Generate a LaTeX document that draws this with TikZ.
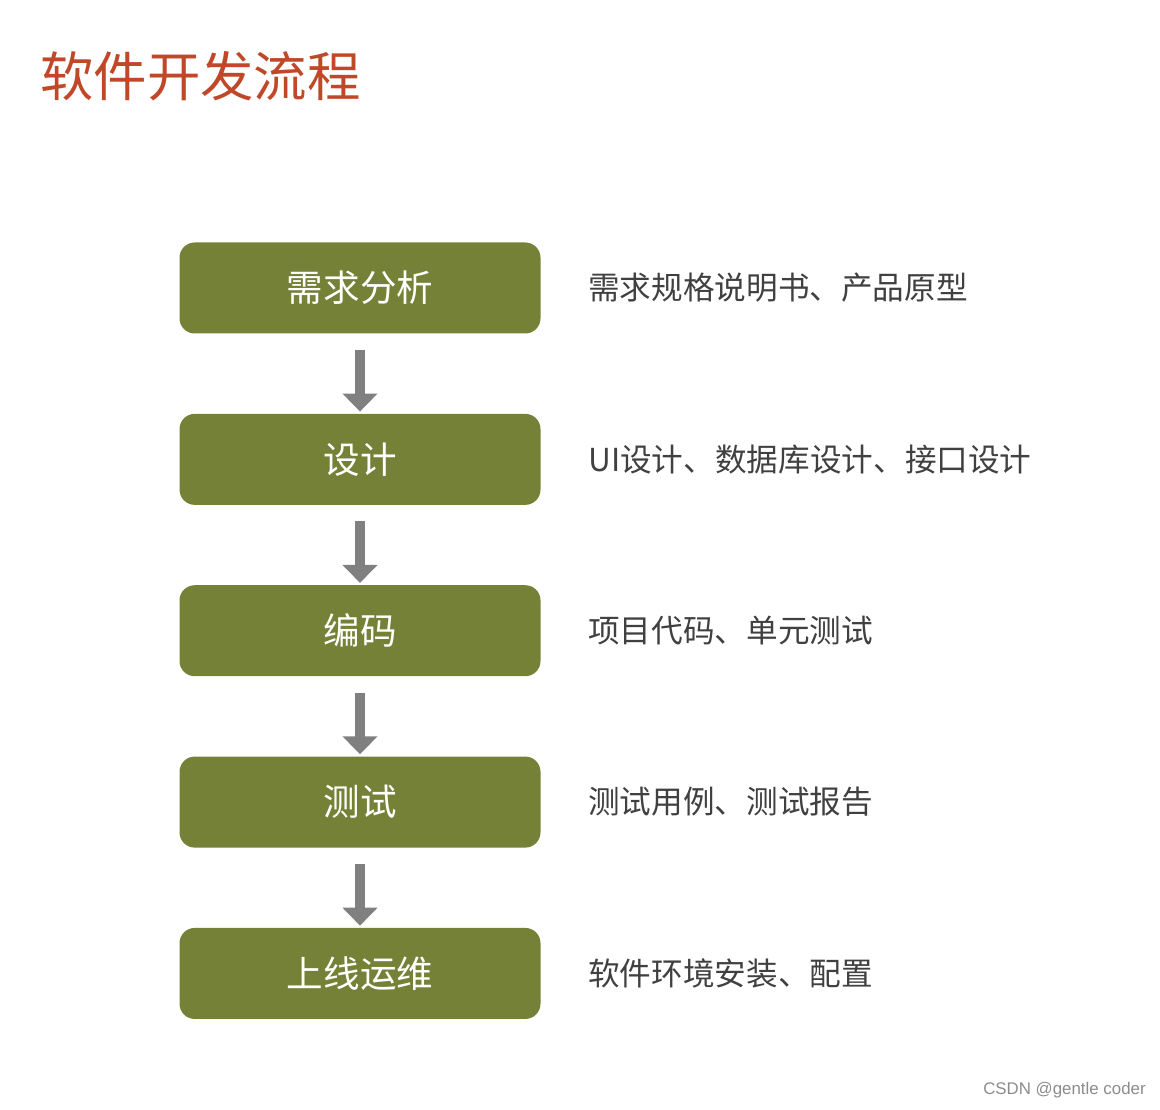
\documentclass[tikz,border=0pt]{standalone}
\usepackage{fontspec}
\setmainfont{Noto Sans CJK SC}
\newfontfamily\wmfont{Liberation Sans}
\usetikzlibrary{positioning,arrows.meta}
\definecolor{olivebox}{RGB}{118,129,56}
\definecolor{titlered}{RGB}{192,72,40}
\definecolor{arrowgray}{RGB}{128,128,128}
\definecolor{desctext}{RGB}{64,64,64}

\begin{document}
\begin{tikzpicture}[
    phase/.style={rectangle,rounded corners=0.38cm,fill=olivebox,text=white,
      minimum width=9.025cm,minimum height=2.275cm,font=\fontsize{26}{30}\selectfont},
    desc/.style={right=1.18cm of #1,inner sep=0pt,text=desctext,font=\fontsize{22.5}{27}\selectfont},
    flow/.style={draw=arrowgray,line width=0.25cm,-{Triangle[width=0.85cm,length=0.45cm]},
      shorten <=0.4cm,shorten >=0.05cm}]

\useasboundingbox (0,0) rectangle (29,-27.75);

\node[anchor=west,inner sep=0pt,text=titlered,font=\fontsize{38}{44}\selectfont] (title) at (1.0,-1.9) {软件开发流程};

\node[phase] (req) at (9,-7.2) {需求分析};
\node[phase,below=1.995cm of req] (design) {设计};
\node[phase,below=1.995cm of design] (code) {编码};
\node[phase,below=1.995cm of code] (test) {测试};
\node[phase,below=1.995cm of test] (ops) {上线运维};

\node[desc=req] (reqout) {需求规格说明书、产品原型};
\node[desc=design] (designout) {UI设计、数据库设计、接口设计};
\node[desc=code] (codeout) {项目代码、单元测试};
\node[desc=test] (testout) {测试用例、测试报告};
\node[desc=ops] (opsout) {软件环境安装、配置};

\draw[flow] (req) -- (design);
\draw[flow] (design) -- (code);
\draw[flow] (code) -- (test);
\draw[flow] (test) -- (ops);

\node[anchor=east,inner sep=0pt,text=black!45,font=\wmfont\fontsize{12}{14}\selectfont] (mark) at (28.65,-27.25) {CSDN @gentle coder};

\end{tikzpicture}
\end{document}
